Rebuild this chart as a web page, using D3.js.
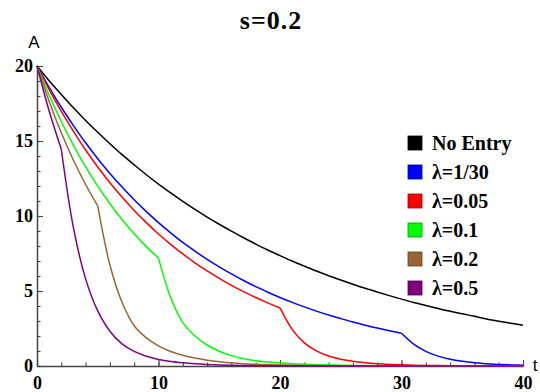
<!DOCTYPE html>
<html>
<head>
<meta charset="utf-8">
<script src="https://cdn.jsdelivr.net/npm/d3@7/dist/d3.min.js"></script>
<style>
  body { margin: 0; background: #fff; }
  svg { display: block; }
</style>
</head>
<body>
<svg id="chart" width="540" height="392"></svg>
<script>
// time grid (t = 0..40)
const times = d3.range(0, 41);

// A(t)
const noEntry = [20, 19.02, 18.10, 17.21, 16.37, 15.58, 14.82, 14.09, 13.41, 12.75,
  12.13, 11.54, 10.98, 10.44, 9.93, 9.45, 8.99, 8.55, 8.13, 7.73,
  7.36, 7.00, 6.66, 6.33, 6.02, 5.73, 5.45, 5.18, 4.93, 4.69,
  4.46, 4.24, 4.04, 3.84, 3.65, 3.48, 3.31, 3.14, 2.99, 2.85, 2.71];
const lambda1_30 = [20, 18.58, 17.25, 16.03, 14.88, 13.82, 12.84, 11.93, 11.08, 10.29,
  9.56, 8.88, 8.24, 7.66, 7.11, 6.61, 6.14, 5.70, 5.29, 4.92,
  4.57, 4.24, 3.94, 3.66, 3.40, 3.16, 2.93, 2.72, 2.53, 2.35,
  2.18, 1.46, 0.98, 0.66, 0.45, 0.31, 0.21, 0.15, 0.105, 0.075, 0.053];
const lambda005 = [20, 18.42, 16.97, 15.64, 14.40, 13.27, 12.22, 11.26, 10.37, 9.56,
  8.80, 8.11, 7.47, 6.88, 6.34, 5.84, 5.38, 4.96, 4.57, 4.21,
  3.87, 2.44, 1.54, 1.01, 0.67, 0.455, 0.31, 0.215, 0.15, 0.107,
  0.077, 0.056, 0.041, 0.030, 0.022, 0.016, 0.012, 0.010, 0.008, 0.006, 0.005];
const lambda01 = [20, 18.05, 16.30, 14.71, 13.28, 11.99, 10.82, 9.77, 8.82, 7.96,
  7.19, 4.56, 2.89, 2.00, 1.40, 0.98, 0.69, 0.49, 0.35, 0.26,
  0.195, 0.146, 0.110, 0.082, 0.062, 0.046, 0.035, 0.026, 0.020, 0.015,
  0.011, 0.008, 0.006, 0.005, 0.004, 0.003, 0.002, 0.002, 0.001, 0.001, 0.001];
const lambda02 = [20, 17.64, 15.55, 13.72, 12.10, 10.67, 6.73, 4.25, 2.68, 1.87,
  1.34, 0.97, 0.72, 0.53, 0.39, 0.29, 0.21, 0.155, 0.115, 0.085,
  0.063, 0.047, 0.035, 0.026, 0.019, 0.014, 0.010, 0.008, 0.006, 0.004,
  0.003, 0.002, 0.002, 0.001, 0.001, 0.001, 0.001, 0, 0, 0, 0];
const lambda05 = [20, 17.0, 14.45, 9.21, 5.81, 3.67, 2.32, 1.48, 0.97, 0.65,
  0.44, 0.30, 0.21, 0.145, 0.10, 0.07, 0.05, 0.035, 0.025, 0.02,
  0.015, 0.01, 0.008, 0.006, 0.004, 0.003, 0.002, 0.002, 0.001, 0.001,
  0.001, 0, 0, 0, 0, 0, 0, 0, 0, 0, 0];

const seriesNames = ['No Entry', 'λ=1/30', 'λ=0.05', 'λ=0.1', 'λ=0.2', 'λ=0.5'];
const seriesValues = [noEntry, lambda1_30, lambda005, lambda01, lambda02, lambda05];
const kinkTimes = [null, 30, 20, 10, 5, 2];   // entry time t = 1/λ
const colors = ['#000000', '#0000ff', '#ff0000', '#00ff00', '#996633', '#800080'];
const borders = ['#000000', '#000099', '#990000', '#009900', '#5c3d1f', '#4d004d'];

const xMajor = [0, 10, 20, 30, 40];
const yMajor = [0, 5, 10, 15, 20];

const svg = d3.select('#chart');
const margin = { top: 66, right: 17, bottom: 26, left: 37 };
const width = +svg.attr('width') - margin.left - margin.right;
const height = +svg.attr('height') - margin.top - margin.bottom;

const g = svg.append('g')
  .attr('transform', `translate(${margin.left},${margin.top})`);

const x = d3.scaleLinear().domain([0, 40]).range([0, width]);
const y = d3.scaleLinear().domain([0, 20]).range([height, 0]);

// minor ticks
g.append('g')
  .attr('class', 'x-minor')
  .attr('transform', `translate(0,${height})`)
  .call(d3.axisBottom(x).tickValues(d3.range(0, 41, 2)).tickSize(-3.5).tickSizeOuter(0).tickFormat(''));
g.append('g')
  .attr('class', 'y-minor')
  .call(d3.axisLeft(y).tickValues(d3.range(0, 21, 1)).tickSize(-3.5).tickSizeOuter(0).tickFormat(''));

// major ticks + labels
g.append('g')
  .attr('class', 'x-axis')
  .attr('transform', `translate(0,${height})`)
  .call(d3.axisBottom(x).tickValues(xMajor).tickSize(-6).tickSizeOuter(0).tickPadding(10).tickFormat(d3.format('d')));
g.append('g')
  .attr('class', 'y-axis')
  .call(d3.axisLeft(y).tickValues(yMajor).tickSize(-6).tickSizeOuter(0).tickPadding(4).tickFormat(d3.format('d')));

g.selectAll('.domain, .tick line')
  .attr('stroke', '#444')
  .attr('stroke-width', 1.1);
g.selectAll('.x-axis .domain, .y-axis .domain').attr('stroke-width', 1.4);
g.selectAll('.x-axis text, .y-axis text')
  .attr('fill', '#000')
  .style('font-family', '"Liberation Serif", "Times New Roman", serif')
  .style('font-weight', 'bold')
  .style('font-size', '18px');

// curves, split at the entry time so the kink stays sharp
const line = d3.line()
  .x(d => x(d[0]))
  .y(d => y(d[1]))
  .curve(d3.curveCatmullRom.alpha(0.5));

seriesValues.forEach((vals, i) => {
  const pts = times.map((t, j) => [t, vals[j]]);
  const k = kinkTimes[i];
  const parts = k === null ? [pts] : [pts.filter(p => p[0] <= k), pts.filter(p => p[0] >= k)];
  parts.forEach(part => {
    g.append('path')
      .datum(part)
      .attr('fill', 'none')
      .attr('stroke', colors[i])
      .attr('stroke-width', 1.5)
      .attr('stroke-linejoin', 'round')
      .attr('d', line);
  });
});

// axis names
svg.append('text')
  .attr('x', 34).attr('y', 48)
  .attr('text-anchor', 'middle')
  .style('font-family', '"Liberation Sans", Arial, sans-serif')
  .style('font-size', '17px')
  .text('A');
svg.append('text')
  .attr('x', 535).attr('y', 371)
  .attr('text-anchor', 'middle')
  .style('font-family', '"Liberation Sans", Arial, sans-serif')
  .style('font-size', '17px')
  .text('t');

// title
svg.append('text')
  .attr('x', 271).attr('y', 29)
  .attr('text-anchor', 'middle')
  .style('font-family', '"Liberation Serif", "Times New Roman", serif')
  .style('font-weight', 'bold')
  .style('font-size', '26px')
  .style('letter-spacing', '1px')
  .text('s=0.2');

// legend
const legend = svg.append('g').attr('transform', 'translate(408,143)');
seriesNames.forEach((name, i) => {
  const row = legend.append('g').attr('transform', `translate(0,${i * 29})`);
  row.append('rect')
    .attr('x', 0).attr('y', -7)
    .attr('width', 14).attr('height', 14)
    .attr('fill', colors[i])
    .attr('stroke', borders[i])
    .attr('stroke-width', 0.8);
  row.append('text')
    .attr('x', 24).attr('y', 7)
    .style('font-family', '"Liberation Serif", "Times New Roman", serif')
    .style('font-weight', 'bold')
    .style('font-size', '20px')
    .text(name);
});
</script>
</body>
</html>
